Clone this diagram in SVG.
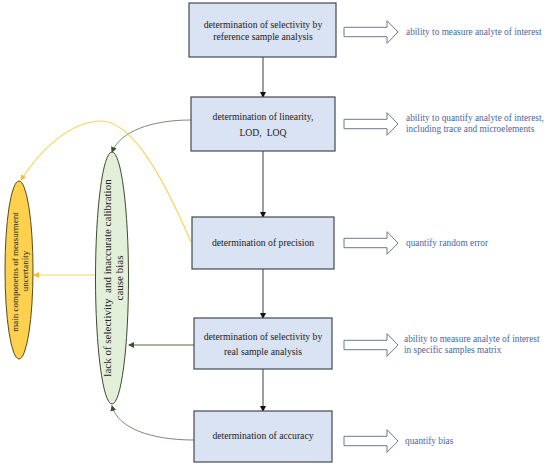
<svg xmlns="http://www.w3.org/2000/svg" xmlns:xlink="http://www.w3.org/1999/xlink" width="550" height="466" viewBox="0 0 550 466">
<style>
.box{fill:#dae3f3;stroke:#44484f;stroke-width:1.2}
.bt{font-family:"Liberation Serif",serif;font-size:9.7px;fill:#222;text-anchor:middle}
.rt{font-family:"Liberation Serif",serif;font-size:9.3px;fill:#4a65a0}
.barrow{fill:#fff;stroke:#6b7891;stroke-width:1}
.vline{stroke:#6a6a6a;stroke-width:1.3;fill:none}
.gline{stroke:#7d8a70;stroke-width:1;fill:none}
.gline2{stroke:#4e6a3a;stroke-width:1;fill:none}
.yline{stroke:#f7d45c;stroke-width:1.2;fill:none}
.et{font-family:"Liberation Serif",serif;font-size:11px;fill:#222;text-anchor:middle}
.yt{font-family:"Liberation Serif",serif;font-size:9px;fill:#222;text-anchor:middle}
</style>
<defs>
<marker id="ah" markerWidth="6" markerHeight="6" refX="5" refY="3" orient="auto" markerUnits="userSpaceOnUse"><path d="M0,0 L6,3 L0,6 z" fill="#111"/></marker>
<marker id="ag" markerWidth="6" markerHeight="6" refX="5" refY="3" orient="auto" markerUnits="userSpaceOnUse"><path d="M0,0 L6,3 L0,6 z" fill="#3e4e30"/></marker>
<marker id="ay" markerWidth="6" markerHeight="6" refX="5" refY="3" orient="auto" markerUnits="userSpaceOnUse"><path d="M0,0 L6,3 L0,6 z" fill="#f2c12e"/></marker>
<path id="blk" d="M0,-4.7 L43,-4.7 L43,-11.3 L54,0 L43,11.3 L43,4.7 L0,4.7 z"/>
</defs>

<g id="connectors">
<line class="vline" x1="263" y1="57" x2="263" y2="97" marker-end="url(#ah)"/>
<line class="vline" x1="263" y1="151" x2="263" y2="217" marker-end="url(#ah)"/>
<line class="vline" x1="263" y1="269" x2="263" y2="318" marker-end="url(#ah)"/>
<line class="vline" x1="263" y1="369" x2="263" y2="411" marker-end="url(#ah)"/>
<path class="gline" d="M191,120 C150,120 120,132 112,152" marker-end="url(#ag)"/>
<path class="gline" d="M194,440 C150,440 118,428 112,406" marker-end="url(#ag)"/>
<line class="gline2" x1="194" y1="345" x2="129" y2="345" marker-end="url(#ag)"/>
<line class="yline" x1="95" y1="275" x2="34" y2="275" marker-end="url(#ay)"/>
<path class="yline" d="M191,242 C160,170 130,120 100,121 C70,122 40,150 21,180" marker-end="url(#ay)"/>
</g>

<g id="box1"><rect class="box" x="189" y="3" width="147" height="54"/>
<text class="bt" x="263" y="28">determination of selectivity by</text>
<text class="bt" x="263" y="40">reference sample analysis</text></g>
<g id="box2"><rect class="box" x="191" y="97" width="144" height="54"/>
<text class="bt" x="263" y="120">determination of linearity,</text>
<text class="bt" x="263" y="136" xml:space="preserve">LOD,  LOQ</text></g>
<g id="box3"><rect class="box" x="192" y="217" width="142" height="52"/>
<text class="bt" x="263" y="246">determination of precision</text></g>
<g id="box4"><rect class="box" x="194" y="318" width="138" height="51"/>
<text class="bt" x="263" y="340">determination of selectivity by</text>
<text class="bt" x="263" y="355">real sample analysis</text></g>
<g id="box5"><rect class="box" x="194" y="411" width="138" height="51"/>
<text class="bt" x="263" y="439">determination of accuracy</text></g>

<g id="out1"><use href="#blk" xlink:href="#blk" class="barrow" x="344" y="32"/>
<text class="rt" x="406" y="35">ability to measure analyte of interest</text></g>
<g id="out2"><use href="#blk" xlink:href="#blk" class="barrow" x="344" y="124"/>
<text class="rt" x="406" y="121">ability to quantify analyte of interest,</text>
<text class="rt" x="406" y="132">including trace and microelements</text></g>
<g id="out3"><use href="#blk" xlink:href="#blk" class="barrow" x="344" y="243"/>
<text class="rt" x="406" y="246">quantify random error</text></g>
<g id="out4"><use href="#blk" xlink:href="#blk" class="barrow" x="344" y="345"/>
<text class="rt" x="404" y="342">ability to measure analyte of interest</text>
<text class="rt" x="404" y="353">in specific samples matrix</text></g>
<g id="out5"><use href="#blk" xlink:href="#blk" class="barrow" x="344" y="441"/>
<text class="rt" x="405" y="444">quantify bias</text></g>

<g id="bias">
<ellipse cx="112" cy="278" rx="16.5" ry="126" fill="#e2efd9" stroke="#3f4a33" stroke-width="1"/>
<text class="et" transform="translate(111,278) rotate(-90)" xml:space="preserve">lack of selectivity  and inaccurate calibration</text>
<text class="et" transform="translate(123,278) rotate(-90)">cause bias</text>
</g>
<g id="uncertainty">
<ellipse cx="19" cy="270" rx="14" ry="89" fill="#fdd04e" stroke="#5a4a1e" stroke-width="1"/>
<text class="yt" transform="translate(18,272) rotate(-90)">main componetns of measurment</text>
<text class="yt" transform="translate(28,271) rotate(-90)">uncertanity</text>
</g>
</svg>
